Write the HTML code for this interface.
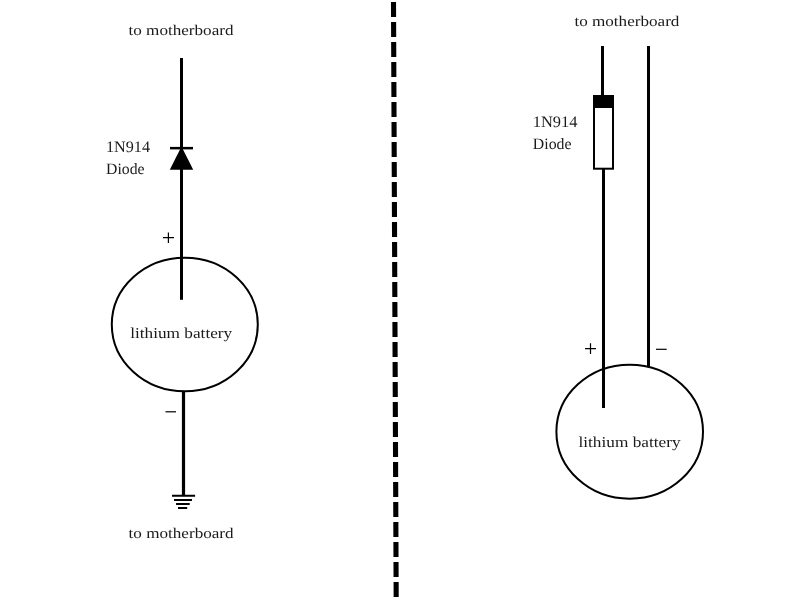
<!DOCTYPE html>
<html>
<head>
<meta charset="utf-8">
<style>
html,body{margin:0;padding:0;background:#fff;}
body{width:800px;height:600px;overflow:hidden;font-family:"Liberation Serif",serif;}
svg{display:block;will-change:transform;}
text{font-family:"Liberation Serif",serif;font-size:14.8px;fill:#1a1a1a;text-rendering:geometricPrecision;}
</style>
</head>
<body>
<svg width="800" height="600" viewBox="0 0 800 600">
<rect width="800" height="600" fill="#fff"/>
<!-- dashed divider -->
<line x1="393.5" y1="2" x2="396.2" y2="602" stroke="#000" stroke-width="5.1" stroke-dasharray="15 5"/>

<!-- LEFT -->
<text x="128.5" y="35" textLength="105" lengthAdjust="spacingAndGlyphs">to motherboard</text>
<rect x="180" y="58" width="3" height="241.8" fill="#000"/>
<rect x="170" y="146.9" width="23" height="2.5" fill="#000"/>
<polygon points="181.5,146.5 193.2,169.7 169.8,169.7" fill="#000"/>
<text x="106" y="152" textLength="44" lengthAdjust="spacingAndGlyphs" style="font-size:16px">1N914</text>
<text x="106" y="174" textLength="38.5" lengthAdjust="spacingAndGlyphs" style="font-size:15.8px">Diode</text>
<path d="M163 237.7H174M168.4 232.5V243" stroke="#000" stroke-width="1.2" fill="none"/>
<ellipse cx="184.8" cy="324.5" rx="73" ry="66.8" fill="none" stroke="#000" stroke-width="2"/>
<text x="130.2" y="337.5" textLength="102" lengthAdjust="spacingAndGlyphs" style="font-size:15px">lithium battery</text>
<rect x="181.9" y="392" width="3.2" height="104" fill="#000"/>
<path d="M165.5 411.8H176" stroke="#000" stroke-width="1.2" fill="none"/>
<path d="M172 495.8H195.1M174 500H192M176.1 504H189.7M178 508H187.2" stroke="#000" stroke-width="2" fill="none"/>
<text x="128.6" y="538" textLength="105" lengthAdjust="spacingAndGlyphs">to motherboard</text>

<!-- RIGHT -->
<text x="574.4" y="26" textLength="105" lengthAdjust="spacingAndGlyphs">to motherboard</text>
<rect x="601" y="46" width="3" height="50" fill="#000"/>
<rect x="647" y="46" width="3" height="320.2" fill="#000"/>
<rect x="594" y="96" width="19" height="72.7" fill="#fff" stroke="#000" stroke-width="2"/>
<rect x="593" y="95" width="21" height="13" fill="#000"/>
<rect x="602" y="169" width="3" height="239" fill="#000"/>
<text x="532.8" y="127" textLength="44.7" lengthAdjust="spacingAndGlyphs" style="font-size:16px">1N914</text>
<text x="532.8" y="149" textLength="38.7" lengthAdjust="spacingAndGlyphs" style="font-size:15.8px">Diode</text>
<ellipse cx="629.7" cy="431.7" rx="73.3" ry="67" fill="none" stroke="#000" stroke-width="2"/>
<path d="M585 348.7H596M590.5 343.3V354" stroke="#000" stroke-width="1.2" fill="none"/>
<path d="M656 349.3H666.7" stroke="#000" stroke-width="1.2" fill="none"/>
<text x="578.5" y="447" textLength="102" lengthAdjust="spacingAndGlyphs" style="font-size:15px">lithium battery</text>
</svg>
</body>
</html>
